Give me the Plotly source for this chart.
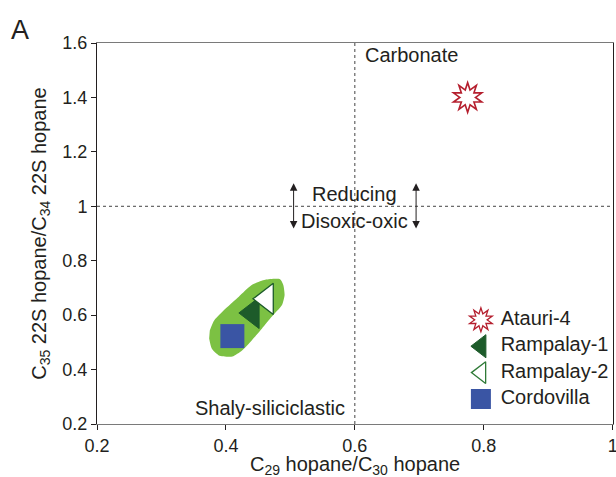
import plotly.graph_objects as go

# ---------------- data ----------------
samples = ["Atauri-4", "Rampalay-1", "Rampalay-2", "Cordovilla"]
c29_c30 = [0.775, 0.441, 0.463, 0.410]      # C29 hopane / C30 hopane
c35_c34 = [1.40, 0.608, 0.660, 0.523]       # C35 22S / C34 22S hopane

# green envelope around the Rampalay / Cordovilla samples
field_x = [0.375, 0.382, 0.400, 0.420, 0.440, 0.461, 0.484, 0.489, 0.491,
           0.487, 0.471, 0.456, 0.440, 0.425, 0.410, 0.389, 0.378, 0.374]
field_y = [0.544, 0.581, 0.625, 0.668, 0.711, 0.730, 0.732, 0.711, 0.674,
           0.637, 0.594, 0.551, 0.507, 0.470, 0.448, 0.452, 0.477, 0.514]

x_ticks = [0.2, 0.4, 0.6, 0.8, 1.0]
x_ticktext = ["0.2", "0.4", "0.6", "0.8", "1"]
y_ticks = [0.2, 0.4, 0.6, 0.8, 1.0, 1.2, 1.4, 1.6]
y_ticktext = ["0.2", "0.4", "0.6", "0.8", "1", "1.2", "1.4", "1.6"]

x_threshold = 0.6
y_threshold = 1.0

x_title = "C<sub>29</sub> hopane/C<sub>30</sub> hopane"
y_title = "C<sub>35</sub> 22S hopane/C<sub>34</sub> 22S hopane"

# ---------------- styles ----------------
RED = "#b51f2e"
DKGREEN = "#1d5b2a"
OPGREEN = "#2f7a37"
BLUE = "#3a55a4"
LTGREEN = "#7cc143"
TXT = "#231f20"
FONT = "Liberation Sans, Arial, sans-serif"

fig = go.Figure()

# envelope
fig.add_trace(go.Scatter(x=field_x, y=field_y, mode="lines", fill="toself",
                         line=dict(width=0, shape="spline", smoothing=0.6),
                         fillcolor=LTGREEN, hoverinfo="skip", showlegend=False))


def add_sample(name, x, y, big, xa="x", ya="y"):
    if name == "Atauri-4":
        s = 25 if big else 20
        for ang in (0, 36):
            fig.add_trace(go.Scatter(x=[x], y=[y], mode="markers", xaxis=xa, yaxis=ya,
                                     marker=dict(symbol="star", size=s, angle=ang, color=RED,
                                                 line=dict(width=0)),
                                     showlegend=False, hoverinfo="skip", cliponaxis=False))
        for ang in (0, 36):
            fig.add_trace(go.Scatter(x=[x], y=[y], mode="markers", xaxis=xa, yaxis=ya,
                                     marker=dict(symbol="star", size=s * 0.7, angle=ang,
                                                 color="white", line=dict(width=0)),
                                     showlegend=False, hoverinfo="skip", cliponaxis=False))
    elif name == "Rampalay-1":
        fig.add_trace(go.Scatter(x=[x], y=[y], mode="markers", xaxis=xa, yaxis=ya,
                                 marker=dict(symbol="triangle-left", size=27 if big else 20,
                                             color=DKGREEN, line=dict(width=1, color=DKGREEN)),
                                 showlegend=False, hoverinfo="skip", cliponaxis=False))
    elif name == "Rampalay-2":
        fig.add_trace(go.Scatter(x=[x], y=[y], mode="markers", xaxis=xa, yaxis=ya,
                                 marker=dict(symbol="triangle-left", size=27 if big else 19,
                                             color="white",
                                             line=dict(width=1.3, color=DKGREEN if big else OPGREEN)),
                                 showlegend=False, hoverinfo="skip", cliponaxis=False))
    else:
        fig.add_trace(go.Scatter(x=[x], y=[y], mode="markers", xaxis=xa, yaxis=ya,
                                 marker=dict(symbol="square", size=24 if big else 20,
                                             color=BLUE, line=dict(width=0)),
                                 showlegend=False, hoverinfo="skip", cliponaxis=False))


# samples in the plot (Cordovilla first so triangles sit above it)
order = [3, 1, 2, 0]
for i in order:
    add_sample(samples[i], c29_c30[i], c35_c34[i], True)

# legend built on a small auxiliary axis pair
for name in samples:
    add_sample(name, 0, name, False, "x2", "y2")
fig.add_trace(go.Scatter(x=[0] * len(samples), y=samples, mode="markers+text",
                         xaxis="x2", yaxis="y2", text=samples, textposition="middle right",
                         textfont=dict(size=20, color=TXT, family=FONT),
                         marker=dict(size=30, color="rgba(0,0,0,0)"),
                         showlegend=False, hoverinfo="skip", cliponaxis=False))

# threshold lines
fig.add_shape(type="line", xref="x", yref="y", x0=x_threshold, x1=x_threshold,
              y0=y_ticks[0], y1=y_ticks[-1], line=dict(color="#444", width=1, dash="dot"))
fig.add_shape(type="line", xref="x", yref="y", x0=x_ticks[0], x1=x_ticks[-1],
              y0=y_threshold, y1=y_threshold, line=dict(color="#444", width=1, dash="dot"))

ann_font = dict(size=20, color=TXT, family=FONT)
annotations = [
    dict(text="Carbonate", x=0.613, y=1.556, xanchor="left", yanchor="middle"),
    dict(text="Reducing", x=0.6, y=1.046, xanchor="center", yanchor="middle"),
    dict(text="Disoxic-oxic", x=0.6, y=0.946, xanchor="center", yanchor="middle"),
    dict(text="Shaly-siliciclastic", x=0.468, y=0.259, xanchor="center", yanchor="middle"),
]
for a in annotations:
    fig.add_annotation(xref="x", yref="y", showarrow=False, font=ann_font, **a)

for ax_x in (0.505, 0.695):
    fig.add_annotation(xref="x", yref="y", axref="x", ayref="y", x=ax_x, y=1.085,
                       ax=ax_x, ay=0.913, text="", showarrow=True, arrowside="end+start",
                       arrowhead=2, startarrowhead=2, arrowsize=1.5, startarrowsize=1.5,
                       arrowwidth=1, arrowcolor=TXT, standoff=0, startstandoff=0)

fig.add_annotation(xref="paper", yref="paper", x=-0.171, y=1.034, xanchor="left",
                   yanchor="middle", text="A", showarrow=False,
                   font=dict(size=27, color=TXT, family=FONT))

# x-axis title placed as an annotation to match the original spacing
fig.add_annotation(xref="paper", yref="paper", x=0.5, y=-0.072, xanchor="center",
                   yanchor="top", text=x_title, showarrow=False, font=ann_font)

axis_common = dict(ticks="outside", ticklen=5, tickwidth=1, tickcolor=TXT,
                   showgrid=False, zeroline=False, showline=True, mirror=True,
                   ticklabeloverflow="allow", automargin=False,
                   tickfont=dict(size=18, color=TXT, family=FONT))

fig.update_layout(
    width=616, height=477,
    margin=dict(l=97, r=3, t=43, b=53, autoexpand=False),
    paper_bgcolor="white", plot_bgcolor="white",
    font=dict(family=FONT, color=TXT),
    showlegend=False,
    xaxis=dict(range=[x_ticks[0], x_ticks[-1] + 0.0005], tickvals=x_ticks,
               ticktext=x_ticktext,
               linecolor="#7a7a7a", linewidth=1.2,
               **axis_common),
    yaxis=dict(range=[y_ticks[0], y_ticks[-1]], tickvals=y_ticks,
               ticktext=y_ticktext,
               linecolor=TXT, linewidth=1,
               title=dict(text=y_title,
                          font=dict(size=20, color=TXT, family=FONT), standoff=10),
               **axis_common),
    xaxis2=dict(domain=[0.744, 1.0], range=[0, 1], visible=False, anchor="y2"),
    yaxis2=dict(domain=[0.031, 0.308], type="category", categoryorder="array",
                categoryarray=samples, range=[3.5, -0.5], visible=False, anchor="x2"),
)

fig.write_html("out.html")
